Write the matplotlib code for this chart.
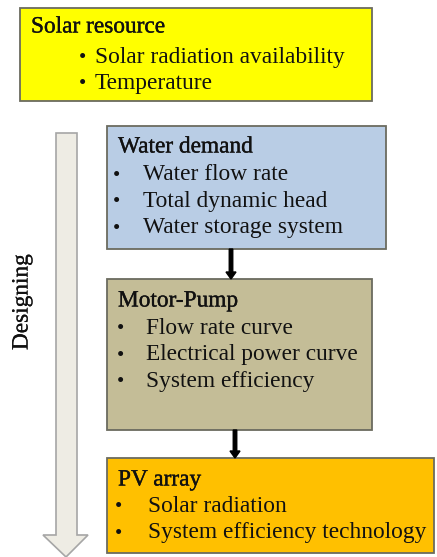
import matplotlib.pyplot as plt
import matplotlib.patheffects as pe
from matplotlib.patches import Rectangle, Polygon, FancyArrow

plt.rcParams['font.family'] = ['Liberation Serif', 'DejaVu Serif']

box_titles = ["Solar resource", "Water demand", "Motor-Pump", "PV array"]
box_items = [
    ["Solar radiation availability", "Temperature"],
    ["Water flow rate", "Total dynamic head", "Water storage system"],
    ["Flow rate curve", "Electrical power curve", "System efficiency"],
    ["Solar radiation", "System efficiency technology"],
]
box_colors = ["#FFFF00", "#B9CDE5", "#C4BD97", "#FFC000"]
side_label = "Designing"

# box geometry in pixels: x0, y0, x1, y1, title y, first item y, bullet x, text x
boxes = [
    (20, 8, 372, 101, 27, 57, 82, 95),
    (107, 126, 386, 249, 147, 175, 117, 143),
    (107, 279, 372, 430, 301, 328, 120, 146),
    (107, 458, 434, 553, 480, 506, 118, 148),
]
line_step = 26.5
fs = 16.8
title_fx = [pe.withStroke(linewidth=0.25, foreground="#111111")]

fig = plt.figure(figsize=(4.37, 5.57), dpi=100)
ax = fig.add_axes([0, 0, 1, 1])
ax.set_xlim(0, 437)
ax.set_ylim(557, 0)
ax.axis("off")

# big designing arrow
arrow_pts = [(56, 133), (77, 133), (77, 535), (88, 535), (66, 557),
             (43, 535), (56, 535)]
ax.add_patch(Polygon(arrow_pts, closed=True, facecolor="#EEECE4",
                     edgecolor="#A6A6A6", linewidth=1.2, zorder=1))
ax.text(22, 302, side_label, rotation=90, ha="center", va="center",
        fontsize=fs, color="#111111",
        path_effects=[pe.withStroke(linewidth=0.15, foreground="#111111")])

for (x0, y0, x1, y1, ty, iy, bx, tx), title, items, col in zip(
        boxes, box_titles, box_items, box_colors):
    ax.add_patch(Rectangle((x0, y0), x1 - x0, y1 - y0, facecolor=col,
                           edgecolor="#6B6B5F", linewidth=1.3, zorder=2))
    ax.text(x0 + 11, ty, title, ha="left", va="center", fontsize=fs,
            color="#111111", zorder=3, path_effects=title_fx)
    for i, item in enumerate(items):
        y = iy + i * line_step
        ax.text(bx, y + 1.5, "\u2022", ha="center", va="center", fontsize=15,
                color="#111111", zorder=3)
        ax.text(tx, y, item, ha="left", va="center", fontsize=fs,
                color="#111111", zorder=3)

# connecting arrows
for x, y0, y1 in [(231, 249, 279), (235, 430, 458)]:
    ax.add_patch(FancyArrow(x, y0, 0, y1 - y0, width=3.5, head_width=10,
                            head_length=7, length_includes_head=True,
                            color="black", zorder=4))

fig.savefig("out.png", dpi=100)
